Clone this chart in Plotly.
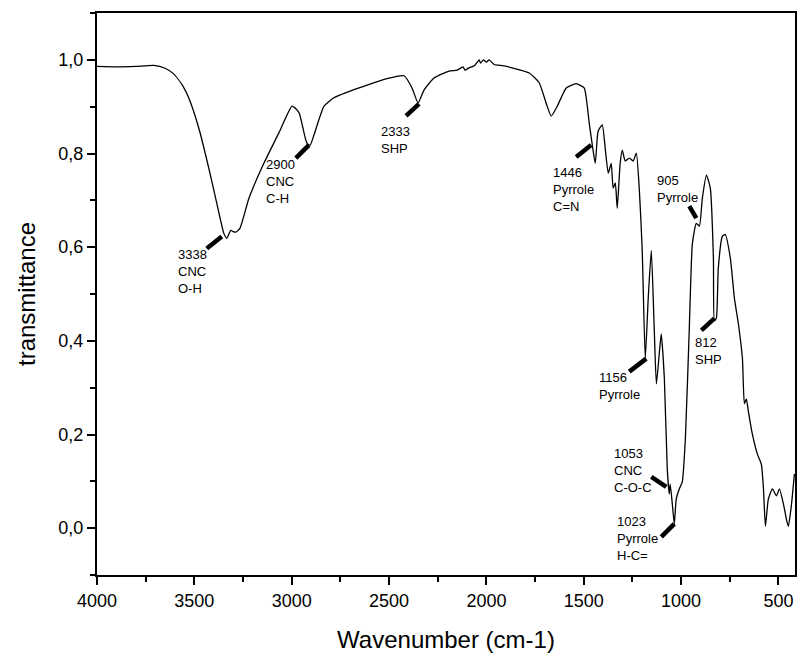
import plotly.graph_objects as go

# FTIR spectrum
wavenumber = [4000, 3900, 3800, 3708, 3650, 3606, 3560, 3528, 3477, 3426, 3385, 3349, 3333,
              3313, 3300, 3287, 3266, 3220, 3143, 3066, 2999, 2985, 2973, 2960, 2948, 2922,
              2905, 2886, 2834, 2783, 2654, 2500, 2423, 2382, 2351, 2320, 2269, 2192, 2150,
              2120, 2110, 2089, 2060, 2037, 2030, 2015, 2000, 1986, 1960, 1909, 1780, 1729,
              1688, 1667, 1636, 1590, 1539, 1498, 1472, 1456, 1441, 1426, 1405, 1390, 1374,
              1359, 1349, 1338, 1328, 1313, 1302, 1287, 1266, 1246, 1230, 1215, 1200, 1184,
              1169, 1153, 1138, 1127, 1112, 1102, 1086, 1071, 1061, 1056, 1045, 1035, 1025,
              1009, 994, 978, 958, 942, 922, 906, 891, 870, 850, 834, 829, 819, 809, 788,
              773, 747, 726, 706, 685, 675, 665, 654, 634, 608, 588, 577, 567, 552, 531, 510,
              495, 474, 459, 449, 433, 418]
transmittance = [0.986, 0.985, 0.986, 0.988, 0.982, 0.970, 0.945, 0.918, 0.854, 0.769, 0.694,
                 0.630, 0.619, 0.636, 0.633, 0.632, 0.640, 0.704, 0.779, 0.844, 0.901, 0.898,
                 0.893, 0.885, 0.865, 0.822, 0.818, 0.839, 0.901, 0.919, 0.940, 0.961, 0.966,
                 0.940, 0.908, 0.936, 0.961, 0.976, 0.978, 0.985, 0.978, 0.983, 0.988, 1.000,
                 0.993, 1.000, 0.995, 1.000, 0.990, 0.987, 0.972, 0.951, 0.901, 0.880, 0.901,
                 0.940, 0.949, 0.940, 0.865, 0.818, 0.779, 0.848, 0.861, 0.812, 0.758, 0.779,
                 0.726, 0.737, 0.683, 0.779, 0.807, 0.784, 0.790, 0.784, 0.801, 0.726, 0.597,
                 0.362, 0.490, 0.593, 0.426, 0.308, 0.373, 0.415, 0.319, 0.126, 0.073, 0.094,
                 0.051, 0.009, 0.062, 0.084, 0.099, 0.191, 0.426, 0.608, 0.651, 0.645, 0.704,
                 0.754, 0.726, 0.576, 0.443, 0.448, 0.555, 0.623, 0.627, 0.576, 0.490, 0.437,
                 0.362, 0.266, 0.276, 0.248, 0.201, 0.158, 0.137, 0.084, 0.004, 0.062, 0.084,
                 0.069, 0.084, 0.051, 0.019, 0.004, 0.051, 0.116]

# peak labels: tip on the curve (wavenumber, transmittance) and text
label_wn = [3359, 2912, 2346, 1462, 922, 1179, 829, 1076, 1035]
label_t = [0.623, 0.818, 0.906, 0.818, 0.662, 0.362, 0.448, 0.088, 0.009]
label_text = ["3338<br>CNC<br>O-H", "2900<br>CNC<br>C-H", "2333<br>SHP",
              "1446<br>Pyrrole<br>C=N", "905<br>Pyrrole", "1156<br>Pyrrole",
              "812<br>SHP", "1053<br>CNC<br>C-O-C", "1023<br>Pyrrole<br>H-C="]
# leader-line start offsets (px, up positive) and text offsets (px)
lead_dx = [-15, -13, -13, -15, -7, -17, -13, -15, -13]
lead_dy = [-12, -13, -12, -12, 12, -13, -12, 10, -13]
text_dx = [-46, -45, -40, -40, -41, -49, -21, -54, -59]
text_dy = [-9, -10, -18, -18, 47, -9, -15, 43, 12]

y_tickvals = [0.0, 0.2, 0.4, 0.6, 0.8, 1.0]
y_ticktext = ["0,0", "0,2", "0,4", "0,6", "0,8", "1,0"]
x_tickvals = [4000, 3500, 3000, 2500, 2000, 1500, 1000, 500]

FONT = "Liberation Sans, Arial, sans-serif"

fig = go.Figure()
fig.add_trace(go.Scatter(x=wavenumber, y=transmittance, mode="lines",
                         line=dict(color="black", width=1.3, shape="spline", smoothing=0.5),
                         hoverinfo="x+y", showlegend=False))

shapes = []
annotations = []
for i in range(len(label_wn)):
    shapes.append(dict(type="line", xref="x", yref="y", xsizemode="pixel", ysizemode="pixel",
                       xanchor=label_wn[i], yanchor=label_t[i],
                       x0=lead_dx[i], y0=lead_dy[i], x1=0, y1=0,
                       line=dict(color="black", width=4.5)))
    annotations.append(dict(x=label_wn[i], y=label_t[i], xref="x", yref="y",
                            text=label_text[i], showarrow=False, align="left",
                            xanchor="left", yanchor="top",
                            xshift=text_dx[i], yshift=text_dy[i],
                            font=dict(family=FONT, size=13, color="black")))

fig.update_layout(
    width=800, height=666,
    paper_bgcolor="white", plot_bgcolor="white",
    margin=dict(l=97, r=5, t=13, b=91, autoexpand=False),
    font=dict(family=FONT, color="black"),
    shapes=shapes, annotations=annotations,
    xaxis=dict(range=[4000, 415], tickvals=x_tickvals, ticks="outside", ticklen=8,
               tickwidth=2, tickcolor="black", automargin=False,
               minor=dict(dtick=250, tick0=0, ticks="outside", ticklen=5, tickwidth=2,
                          tickcolor="black"),
               showline=True, linecolor="black", linewidth=2, mirror=True,
               showgrid=False, zeroline=False,
               tickfont=dict(size=18, family=FONT),
               title=dict(text="Wavenumber (cm-1)", font=dict(size=24, family=FONT),
                          standoff=22)),
    yaxis=dict(range=[-0.1, 1.1], tickvals=y_tickvals, ticktext=y_ticktext,
               ticks="outside", ticklen=8, tickwidth=2, tickcolor="black", automargin=False,
               minor=dict(dtick=0.1, tick0=0, ticks="outside", ticklen=5, tickwidth=2,
                          tickcolor="black"),
               showline=True, linecolor="black", linewidth=2, mirror=True,
               showgrid=False, zeroline=False,
               tickfont=dict(size=18, family=FONT),
               title=dict(text="transmittance", font=dict(size=24, family=FONT),
                          standoff=16)),
)

fig.write_html("out.html", config={"displayModeBar": False},
               post_script="document.body.style.margin='0';")
